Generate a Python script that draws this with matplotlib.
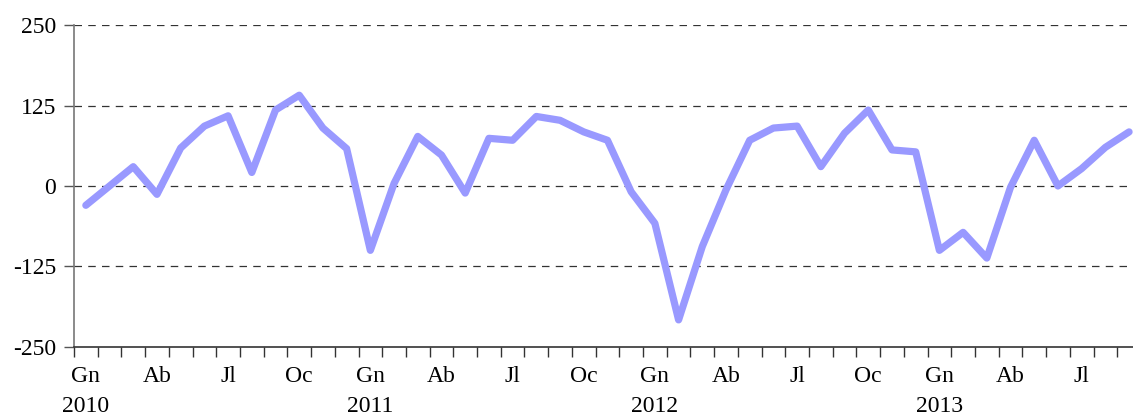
import numpy as np
import matplotlib
matplotlib.use("Agg")
import matplotlib.pyplot as plt
import matplotlib.transforms as mtransforms

# Monthly values, Jan 2010 - Sep 2013
values_2010 = [-30, 0, 30, -13, 59, 93, 109, 21, 118, 141, 90, 58]
values_2011 = [-100, 4, 77, 48, -11, 74, 71, 108, 102, 84, 71, -9]
values_2012 = [-58, -208, -94, -6, 71, 90, 93, 30, 82, 118, 56, 53]
values_2013 = [-100, -72, -112, -2, 71, 0, 27, 60, 84]

months = ["Gn", "", "", "Ab", "", "", "Jl", "", "", "Oc", "", ""]
years = ["2010", "2011", "2012", "2013"]
y_ticks = [-250, -125, 0, 125, 250]

values = values_2010 + values_2011 + values_2012 + values_2013
x = np.arange(len(values))

plt.rcParams["font.family"] = ["Liberation Serif", "DejaVu Serif"]
FS = 17

fig = plt.figure(figsize=(11.33, 4.17), dpi=100)
# right edge runs slightly past the figure, as in the original
ax = fig.add_axes([0.0653, 0.168, 0.9417, 0.772])

# dashed grid
for yv in y_ticks[1:]:
    ax.axhline(yv, color="#333333", linestyle=(0, (6, 5)), linewidth=0.9, zorder=1)

ax.plot(x, values, color="#9999FF", linewidth=5.2, solid_joinstyle="round",
        solid_capstyle="round", zorder=3)

ax.set_xlim(-0.5, len(values) - 0.5)
ax.set_ylim(-250, 250)
ax.set_yticks(y_ticks)
ax.set_yticklabels([str(v) for v in y_ticks], fontsize=FS)
ax.tick_params(axis="y", direction="out", length=7, width=1, color="#555555", pad=6)

# category boundaries as x ticks
ax.set_xticks(np.arange(-0.5, len(values), 1.0))
ax.set_xticklabels([])
ax.tick_params(axis="x", direction="out", length=7, width=1, color="#333333")

for s in ["top", "right"]:
    ax.spines[s].set_visible(False)
ax.spines["left"].set_color("#777777")
ax.spines["bottom"].set_color("#333333")
ax.spines["left"].set_linewidth(1.2)
ax.spines["bottom"].set_linewidth(1.2)

trans = mtransforms.blended_transform_factory(ax.transData, fig.transFigure)
for i in range(len(values)):
    m = months[i % 12]
    if m:
        ax.text(i, 1 - 376 / 417, m, transform=trans, ha="center", va="center",
                fontsize=FS)
    if i % 12 == 0:
        ax.text(i, 1 - 406 / 417, years[i // 12], transform=trans,
                ha="center", va="center", fontsize=FS)

fig.savefig("out.png", dpi=100)
